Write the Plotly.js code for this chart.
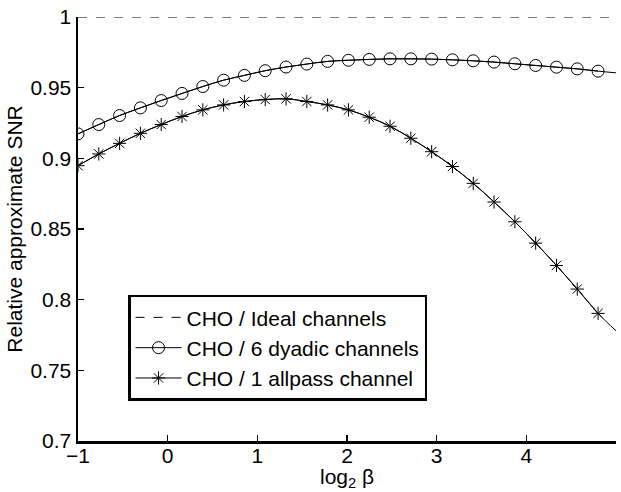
<!DOCTYPE html>
<html>
<head>
<meta charset="utf-8">
<script src="https://cdn.plot.ly/plotly-3.0.1.min.js"></script>
<style>html,body{margin:0;padding:0;background:#fff;}#chart{width:621px;height:492px;}</style>
</head>
<body>
<div id="chart"></div>
<script>
// marker positions (log2 beta)
var xMarkers = [-1, -0.768, -0.536, -0.304, -0.072, 0.16, 0.392, 0.624, 0.856, 1.088, 1.32, 1.552, 1.784,
  2.016, 2.248, 2.48, 2.712, 2.944, 3.176, 3.408, 3.64, 3.872, 4.104, 4.336, 4.568, 4.8];
var xEnd = 5;
var xIdeal = [-1, 5];
var yIdeal = [1, 1];
var yDyadic = [0.9173, 0.9239, 0.9303, 0.9357, 0.9409, 0.9459, 0.9508, 0.9553, 0.9587, 0.9620, 0.9646, 0.9667, 0.9686,
  0.9694, 0.9700, 0.9704, 0.9704, 0.9702, 0.9697, 0.9690, 0.9681, 0.9669, 0.9657, 0.9645, 0.9633, 0.9617];
var yDyadicEnd = 0.9605;
var yAllpass = [0.8948, 0.9031, 0.9106, 0.9177, 0.9239, 0.9296, 0.9343, 0.9378, 0.9402, 0.9416, 0.9421, 0.9402, 0.9378,
  0.9343, 0.9291, 0.9227, 0.9142, 0.9047, 0.8942, 0.8823, 0.8691, 0.8551, 0.8400, 0.8242, 0.8075, 0.7903];
var yAllpassEnd = 0.778;
var names = ["CHO / Ideal channels", "CHO / 6 dyadic channels", "CHO / 1 allpass channel"];
var xTicks = [-1, 0, 1, 2, 3, 4, 5];
var yTicks = [0.7, 0.75, 0.8, 0.85, 0.9, 0.95, 1];
var yTickText = ["0.7", "0.75", "0.8", "0.85", "0.9", "0.95", "1"];
var xTitle = "log<sub>2</sub> β";
var yTitle = "Relative approximate SNR";

var FONT = "Liberation Sans, Arial, Helvetica, sans-serif";
var FS = 21;
var traces = [
  {x: xIdeal, y: yIdeal, mode: "lines", name: names[0],
   line: {color: "#000", width: 1, dash: "dash"}},
  {x: xMarkers.concat([xEnd]), y: yDyadic.concat([yDyadicEnd]), mode: "lines", showlegend: false,
   line: {color: "#000", width: 1, shape: "spline"}, hoverinfo: "skip"},
  {x: xMarkers, y: yDyadic, mode: "lines+markers", name: names[1],
   line: {color: "#000", width: 1, shape: "spline"},
   marker: {symbol: "circle-open", size: 12, color: "#000", line: {width: 1, color: "#000"}}},
  {x: xMarkers.concat([xEnd]), y: yAllpass.concat([yAllpassEnd]), mode: "lines", showlegend: false,
   line: {color: "#000", width: 1, shape: "spline"}, hoverinfo: "skip"},
  {x: xMarkers, y: yAllpass, mode: "lines+markers", name: names[2],
   line: {color: "#000", width: 1, shape: "spline"},
   marker: {symbol: "asterisk-open", size: 11, color: "#000", line: {width: 1, color: "#000"}}}
];

var layout = {
  width: 621, height: 492,
  margin: {l: 78, r: 5, t: 17, b: 51},
  paper_bgcolor: "#fff", plot_bgcolor: "#fff",
  font: {family: FONT, size: FS, color: "#000"},
  showlegend: true,
  legend: {x: 0.093, y: 0.345, xanchor: "left", yanchor: "top",
    bgcolor: "#fff", bordercolor: "#000", borderwidth: 2.5, itemwidth: 46,
    font: {family: FONT, size: FS, color: "#000"}, tracegroupgap: 0},
  xaxis: {range: [-1, 5], tickvals: xTicks, ticks: "inside", ticklen: 6, tickwidth: 1.5, tickcolor: "#000",
    ticklabelstandoff: -6,
    showline: true, linecolor: "#000", linewidth: 2.5, showgrid: false, zeroline: false,
    tickfont: {family: FONT, size: FS, color: "#000"}},
  yaxis: {range: [0.7, 1], tickvals: yTicks, ticktext: yTickText,
    ticks: "inside", ticklen: 6, tickwidth: 1.5, tickcolor: "#000",
    showline: true, linecolor: "#000", linewidth: 2.5, showgrid: false, zeroline: false,
    tickfont: {family: FONT, size: FS, color: "#000"},
    title: {text: yTitle, font: {family: FONT, size: FS, color: "#000"}, standoff: 2}},
  annotations: [{text: xTitle, xref: "paper", yref: "paper", x: 0.5, y: -0.1203,
    xanchor: "center", yanchor: "bottom", showarrow: false, borderpad: 0,
    font: {family: FONT, size: FS, color: "#000"}}]
};
Plotly.newPlot("chart", traces, layout, {displayModeBar: false, staticPlot: true});
</script>
</body>
</html>
